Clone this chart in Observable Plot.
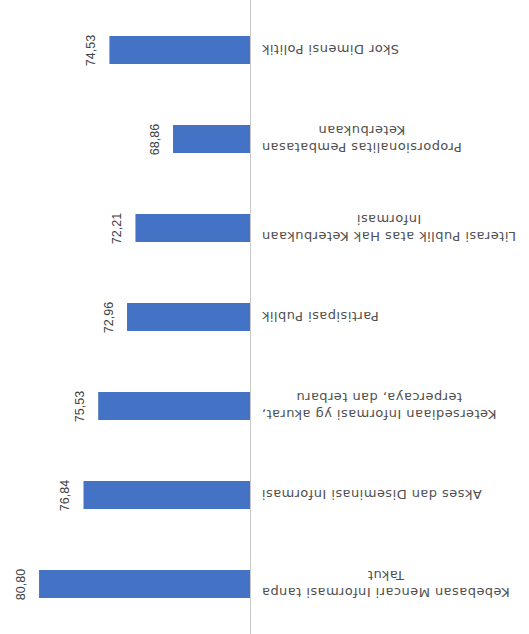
<!DOCTYPE html>
<html>
<head>
<meta charset="utf-8">
<script src="https://cdn.jsdelivr.net/npm/d3@7"></script>
<script src="https://cdn.jsdelivr.net/npm/@observablehq/plot@0.6"></script>
<style>
  html, body { margin: 0; padding: 0; background: #ffffff; }
  #chart svg { display: block; }
</style>
</head>
<body>
<div id="chart"></div>
<script>
// Categories, top to bottom as shown
const categories = [
  "Skor Dimensi Politik",
  "Proporsionalitas Pembatasan\nKeterbukaan",
  "Literasi Publik atas Hak Keterbukaan\nInformasi",
  "Partisipasi Publik",
  "Ketersediaan Informasi yg akurat,\nterpercaya, dan terbaru",
  "Akses dan Diseminasi Informasi",
  "Kebebasan Mencari Informasi tanpa\nTakut"
];
const values = [74.53, 68.86, 72.21, 72.96, 75.53, 76.84, 80.80];
const axisBase = 62;
const axisMax = 82;

const data = categories.map((c, i) => ({category: c, value: values[i]}));
const fmt = v => d3.format(".2f")(v).replace(".", ",");

const chart = Plot.plot({
  width: 529,
  height: 634,
  marginTop: 0,
  marginBottom: 0,
  marginLeft: 0,
  marginRight: 0,
  style: {fontFamily: "'Liberation Sans', Arial, sans-serif", background: "#ffffff"},
  x: {domain: [axisBase, axisMax], range: [250, 25.6], axis: null},
  y: {domain: categories, range: [0, 634], paddingInner: 0.68, paddingOuter: 0.37, axis: null},
  marks: [
    Plot.barX(data, {y: "category", x1: axisBase, x2: "value", fill: "#4472C4"}),
    Plot.ruleX([axisBase], {stroke: "#c8c8c8", strokeWidth: 1}),
    Plot.text(data, {
      y: "category", x: "value", text: d => fmt(d.value),
      rotate: -90, textAnchor: "middle", lineAnchor: "middle",
      dx: -19, fontSize: 12.5, fill: "#404040"
    }),
    Plot.text(data, {
      y: "category", x: axisBase, text: "category",
      rotate: 180, textAnchor: "end", lineAnchor: "middle", lineHeight: 1.3,
      dx: 11, fontSize: 13, fill: "#505050", fontFamily: "'DejaVu Sans', sans-serif"
    })
  ]
});

document.getElementById("chart").appendChild(chart);

// Category labels: slightly wider spacing; center lines of multi-line labels within their block
d3.select(chart).selectAll("text").each(function() {
  const isCat = this.getAttribute("transform") && this.getAttribute("transform").includes("rotate(180)");
  if (!isCat) return;
  this.setAttribute("letter-spacing", "0.45px");
  const tspans = this.querySelectorAll("tspan");
  if (tspans.length < 2) return;
  let L = 0;
  tspans.forEach(t => { L = Math.max(L, t.getComputedTextLength()); });
  this.setAttribute("text-anchor", "middle");
  tspans.forEach(t => t.setAttribute("x", -L / 2));
});
</script>
</body>
</html>
